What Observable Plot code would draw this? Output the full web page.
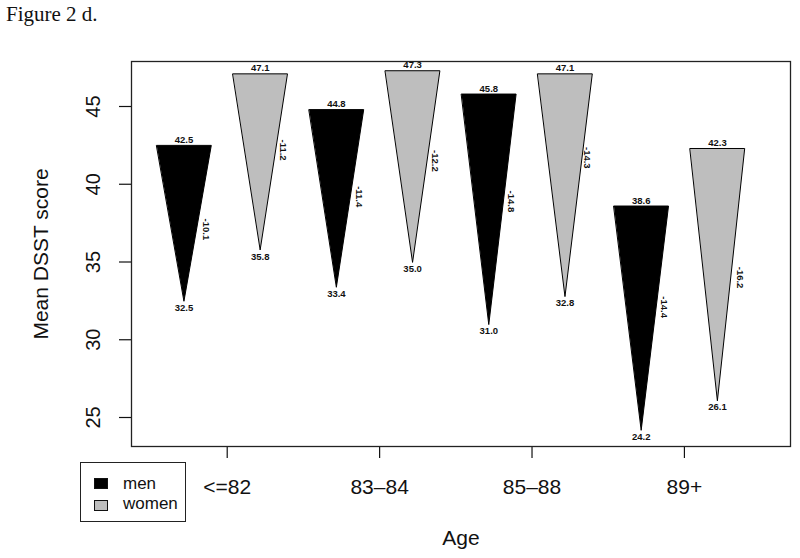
<!DOCTYPE html>
<html><head><meta charset="utf-8">
<script src="https://cdn.jsdelivr.net/npm/d3@7"></script>
<script src="https://cdn.jsdelivr.net/npm/@observablehq/plot@0.6"></script>
<style>
body{margin:0;background:#fff;}
#wrap{position:relative;width:800px;height:558px;font-family:"Liberation Sans",Arial,Helvetica,sans-serif;color:#111;}
#title{position:absolute;left:6px;top:4px;font:21px/21px "Liberation Serif","Times New Roman",serif;color:#111;white-space:nowrap;}
#chart{position:absolute;left:0;top:0;}
#legend{position:absolute;left:80px;top:462px;width:104px;height:58px;border:1.4px solid #222;background:#fff;}
.sw{position:absolute;left:13px;width:12px;height:9px;border:1px solid #111;}
.lt{position:absolute;left:42px;font-size:17px;line-height:17px;white-space:nowrap;}
</style></head>
<body>
<div id="wrap">
  <div id="chart"></div>
  <div id="title">Figure 2 d.</div>
  <div id="legend"></div>
</div>
<script>
// ---- data ----
const ageGroups = ["<=82", "83–84", "85–88", "89+"];
const sexes = ["men", "women"];
const sexColors = ["#000000", "#bebebe"];
const baselineMen = [42.5, 44.8, 45.8, 38.6];
const followupMen = [32.5, 33.4, 31.0, 24.2];
const changeMen = [-10.1, -11.4, -14.8, -14.4];
const baselineWomen = [47.1, 47.3, 47.1, 42.3];
const followupWomen = [35.8, 35.0, 32.8, 26.1];
const changeWomen = [-11.2, -12.2, -14.3, -16.2];
// where the change labels sit (in score units), estimated from the figure
const changeLabelAtMen = [37.1, 39.2, 38.9, 32.1];
const changeLabelAtWomen = [42.2, 41.5, 41.7, 34.0];
const yTicks = [25, 30, 35, 40, 45];

// ---- layout in slot units (each triangle occupies one slot) ----
const halfWidth = 0.358;
const labelOffset = 0.295;
const tickOffset = 0.567;

const rows = [];
ageGroups.forEach((age, g) => {
  rows.push({age, sex: "men", slot: 2 * g, base: baselineMen[g], follow: followupMen[g], change: changeMen[g], at: changeLabelAtMen[g]});
  rows.push({age, sex: "women", slot: 2 * g + 1, base: baselineWomen[g], follow: followupWomen[g], change: changeWomen[g], at: changeLabelAtWomen[g]});
});
const verts = rows.flatMap((r, i) => [
  {id: i, sex: r.sex, x: r.slot - halfWidth, y: r.base},
  {id: i, sex: r.sex, x: r.slot + halfWidth, y: r.base},
  {id: i, sex: r.sex, x: r.slot, y: r.follow}
]);
const tickPos = ageGroups.map((_, g) => 2 * g + tickOffset);
const fmt = v => v.toFixed(1);
const lblSize = 9.5;

const chart = Plot.plot({
  width: 800,
  height: 558,
  marginLeft: 131,
  marginRight: 10,
  marginTop: 61,
  marginBottom: 112,
  style: {fontFamily: '"Liberation Sans", Arial, Helvetica, sans-serif', color: "#111", background: "transparent"},
  x: {type: "linear", domain: [-0.689, 7.959], axis: null},
  y: {type: "linear", domain: [23.135, 47.894], axis: null},
  marks: [
    Plot.line(verts.filter(d => d.sex === "women"), {x: "x", y: "y", z: "id", curve: "linear-closed", fill: sexColors[1], stroke: "#000", strokeWidth: 1}),
    Plot.line(verts.filter(d => d.sex === "men"), {x: "x", y: "y", z: "id", curve: "linear-closed", fill: sexColors[0], stroke: "#000", strokeWidth: 1}),
    Plot.text(rows, {x: "slot", y: "base", text: d => fmt(d.base), dy: -5.5, lineAnchor: "middle", fontSize: lblSize, fontWeight: "bold", fill: "#111"}),
    Plot.text(rows, {x: "slot", y: "follow", text: d => fmt(d.follow), dy: 7, lineAnchor: "middle", fontSize: lblSize, fontWeight: "bold", fill: "#111"}),
    Plot.text(rows, {x: d => d.slot + labelOffset, y: "at", text: d => fmt(d.change), rotate: 90, textAnchor: "middle", lineAnchor: "middle", fontSize: lblSize, fontWeight: "bold", fill: "#111"}),
    Plot.axisY({ticks: yTicks, tickSize: 12, tickFormat: () => "", label: null, strokeWidth: 1.2}),
    Plot.text(yTicks, {y: d => d, frameAnchor: "left", dx: -38.3, rotate: -90, textAnchor: "middle", lineAnchor: "middle", fontSize: 20, fill: "#111"}),
    Plot.axisX({ticks: tickPos, tickSize: 12, tickPadding: 21, fontSize: 21, label: null, strokeWidth: 1.2,
      tickFormat: d => ageGroups[Math.round((d - tickOffset) / 2)]}),
    Plot.text(["Age"], {frameAnchor: "bottom", dy: 92, lineAnchor: "middle", fontSize: 21, fill: "#111"}),
    Plot.text(["Mean DSST score"], {frameAnchor: "left", dx: -90, rotate: -90, textAnchor: "middle", lineAnchor: "middle", fontSize: 21, fill: "#111"}),
    Plot.frame({stroke: "#222", strokeWidth: 1.3})
  ]
});
document.getElementById("chart").appendChild(chart);

// legend
const legend = document.getElementById("legend");
const swTops = [15, 37];
const txTops = [11.5, 32];
sexes.forEach((s, i) => {
  const sw = document.createElement("div");
  sw.className = "sw";
  sw.style.top = swTops[i] + "px";
  sw.style.background = sexColors[i];
  legend.appendChild(sw);
  const t = document.createElement("div");
  t.className = "lt";
  t.style.top = txTops[i] + "px";
  t.textContent = s;
  legend.appendChild(t);
});
</script>
</body></html>
